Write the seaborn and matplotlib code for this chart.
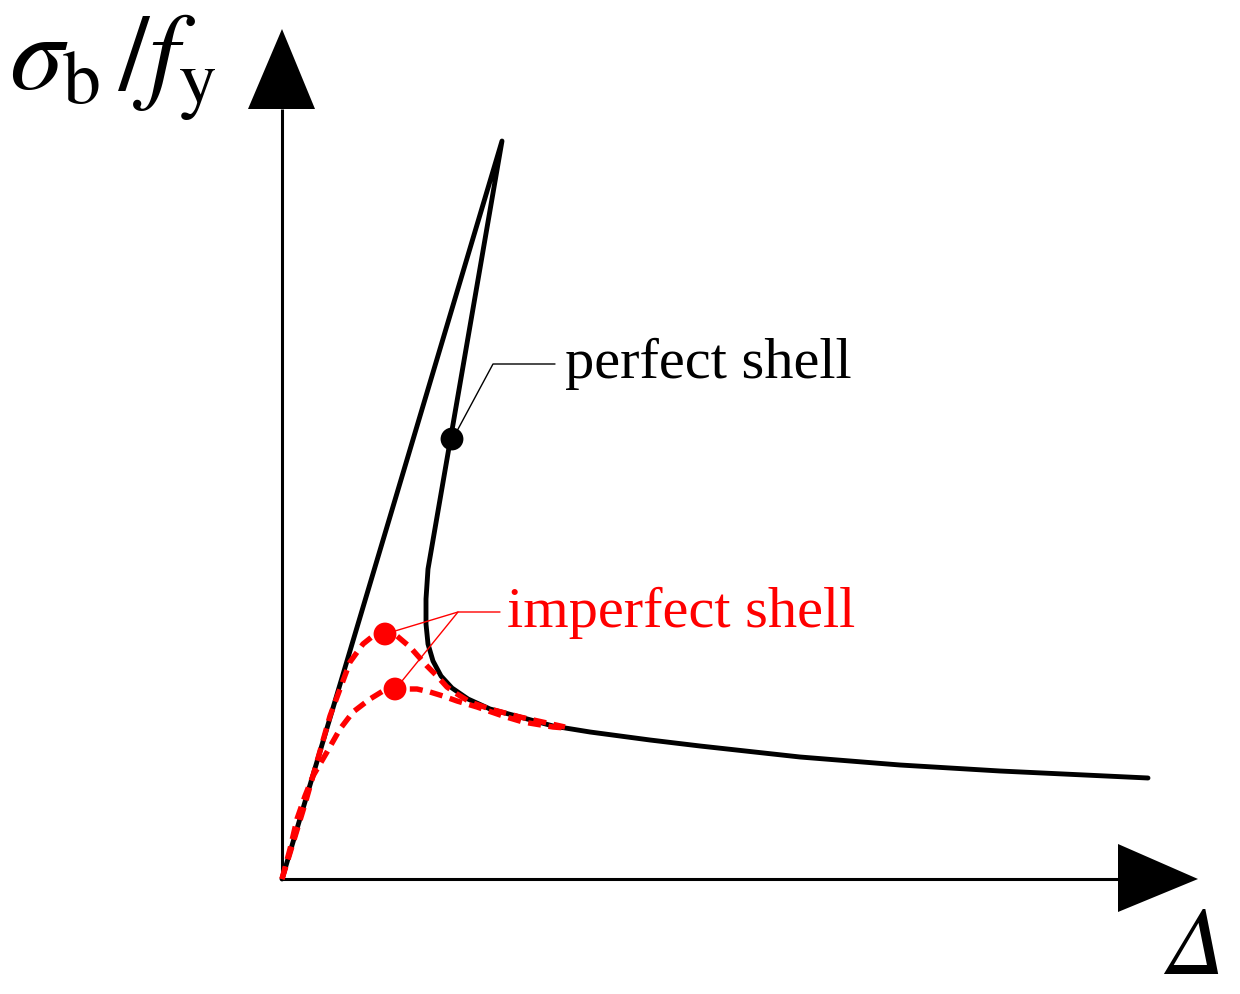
import matplotlib
matplotlib.use("Agg")
import matplotlib.pyplot as plt
import seaborn as sns

sns.set_theme(style="white")
plt.rcParams["font.family"] = ["Liberation Serif", "DejaVu Serif"]
plt.rcParams["mathtext.fontset"] = "stix"
plt.rcParams["text.color"] = "black"

# --- data (schematic units: origin at axes corner) ---
perfect_x = [0.00, 2.20, 1.46, 1.44, 1.44, 1.46, 1.51, 1.59, 1.70, 1.86, 2.08, 2.38,
             2.71, 3.08, 3.68, 4.18, 5.18, 6.18, 7.18, 8.66]
perfect_y = [0.00, 7.38, 3.10, 2.80, 2.55, 2.35, 2.18, 2.03, 1.91, 1.80, 1.70, 1.62,
             1.53, 1.47, 1.39, 1.33, 1.22, 1.14, 1.08, 1.01]

imp1_x = [0.00, 0.23, 0.48, 0.58, 0.68, 0.81, 0.91, 1.03, 1.15, 1.28, 1.36, 1.45,
          1.55, 1.65, 1.75, 1.88, 2.08, 2.38, 2.83]
imp1_y = [0.00, 0.75, 1.63, 1.90, 2.17, 2.35, 2.43, 2.47, 2.43, 2.32, 2.23, 2.13,
          2.03, 1.92, 1.85, 1.77, 1.70, 1.62, 1.52]

imp2_x = [0.00, 0.08, 0.15, 0.23, 0.31, 0.45, 0.58, 0.71, 0.88, 1.01, 1.13, 1.35,
          1.48, 1.61, 1.75, 1.95, 2.21, 2.41, 2.71, 2.83]
imp2_y = [0.00, 0.30, 0.60, 0.83, 1.03, 1.27, 1.50, 1.67, 1.80, 1.88, 1.90, 1.90,
          1.87, 1.83, 1.78, 1.72, 1.63, 1.57, 1.52, 1.51]

perfect_pt = (1.70, 4.40)
imperfect_pts_x = [1.03, 1.13]
imperfect_pts_y = [2.45, 1.90]

label_perfect = "perfect shell"
label_imperfect = "imperfect shell"

RED = "#ff0000"

fig = plt.figure(figsize=(12.4, 9.95), dpi=100)
ax = fig.add_axes([0, 0, 1, 1])
ax.set_xlim(-2.82, 9.58)
ax.set_ylim(-1.15, 8.80)
ax.axis("off")

# axes with arrow heads
ax.plot([0, 0], [0, 7.70], color="black", lw=2.2, solid_capstyle="butt")
ax.plot([0, 8.36], [0, 0], color="black", lw=2.2, solid_capstyle="butt")
ax.fill([-0.34, 0.33, 0.0], [7.70, 7.70, 8.50], color="black", lw=0)
ax.fill([8.36, 8.36, 9.16], [0.35, -0.33, 0.0], color="black", lw=0)

# curves
sns.lineplot(x=perfect_x, y=perfect_y, sort=False, estimator=None, color="black",
             lw=3.5, ax=ax)
for xs, ys in [(imp1_x, imp1_y), (imp2_x, imp2_y)]:
    sns.lineplot(x=xs, y=ys, sort=False, estimator=None, color=RED, lw=3.9,
                 linestyle=(0, (2.4, 1.4)), ax=ax)

sns.scatterplot(x=[perfect_pt[0]], y=[perfect_pt[1]], color="black", s=270,
                edgecolor="none", ax=ax, zorder=5)
sns.scatterplot(x=imperfect_pts_x, y=imperfect_pts_y, color=RED, s=270,
                edgecolor="none", ax=ax, zorder=5)

# leader lines + labels
ax.plot([1.75, 2.11, 2.73], [4.48, 5.15, 5.15], color="black", lw=1.0)
ax.text(2.83, 5.02, label_perfect, fontsize=42, color="black", va="baseline")

ax.plot([2.18, 1.76, 1.13], [2.67, 2.67, 2.48], color=RED, lw=1.0)
ax.plot([1.76, 1.20], [2.67, 1.98], color=RED, lw=1.0)
ax.text(2.25, 2.53, label_imperfect, fontsize=42, color=RED, va="baseline")

# axis labels
ax.text(-2.73, 7.90, r"$\sigma_\mathrm{b}\,/f_\mathrm{y}$", fontsize=78,
        color="black", va="baseline")
ax.text(8.84, -1.14, "\u0394", fontsize=70, family="STIXGeneral", style="italic",
        color="black", va="bottom")

fig.savefig("out.png", dpi=100)
